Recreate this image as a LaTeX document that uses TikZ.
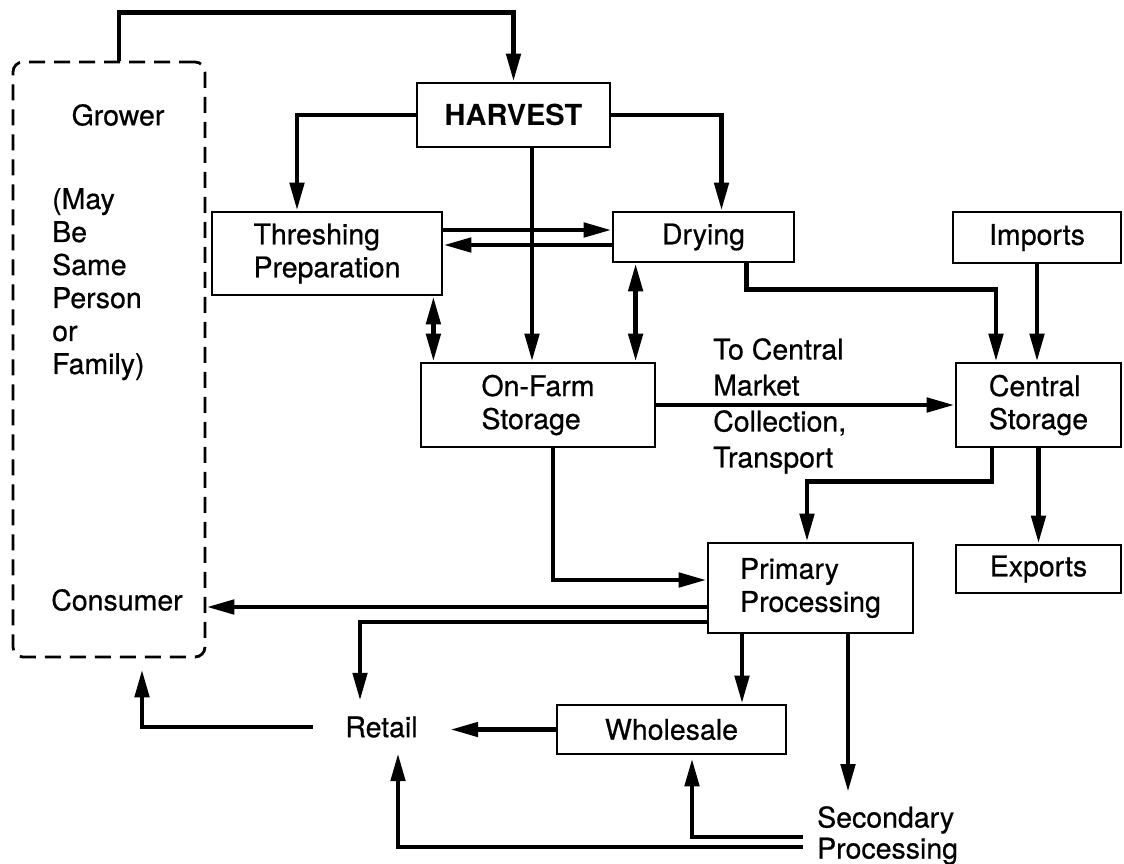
\documentclass[tikz,border=0pt]{standalone}
\usepackage{fontspec}
\setmainfont{TeX Gyre Heros}
\newfontfamily\medfont{TeX Gyre Heros}[FakeBold=0.6]
\usetikzlibrary{arrows.meta,calc}
\newcommand{\dgfont}{\medfont\fontsize{28.5}{33}\selectfont}
\begin{document}
\begin{tikzpicture}[x=1pt,y=-1pt,
  box/.style={draw,line width=2.8pt,inner sep=0pt,font=\dgfont,align=left},
  txt/.style={inner sep=0pt,font=\dgfont,align=left},
  gbox/.style={draw,line width=2.8pt,dash pattern=on 16pt off 9pt,rounded corners=10pt,inner sep=0pt},
  conn/.style={line width=4.8pt,-{Triangle[length=28pt,width=14pt]}},
  conn2/.style={line width=4.8pt,{Triangle[length=28pt,width=14pt]}-{Triangle[length=28pt,width=14pt]}}
]
\useasboundingbox (0,0) rectangle (1124,863);
% grower/consumer dashed box
\node[gbox,minimum width=192,minimum height=595] (gc) at (109,359.5) {};
\node[txt] (grower) at (118,115) {Grower};
\node[txt,anchor=north west] (may) at (52,188) {(May\\Be\\Same\\Person\\or\\Family)};
\node[txt] (consumer) at (117,600) {Consumer};
% boxes
\node[box,minimum width=193,minimum height=64,font=\fontsize{29}{33}\selectfont\bfseries] (harvest) at (513.5,115) {HARVEST};
\node[box,minimum width=230,minimum height=83] (thresh) at (327,253.5) {Threshing\\Preparation};
\node[box,minimum width=181,minimum height=50] (drying) at (703.5,237) {Drying};
\node[box,minimum width=168,minimum height=51] (imports) at (1037,237.5) {Imports};
\node[box,minimum width=234,minimum height=84] (onfarm) at (538,405) {On-Farm\\Storage};
\node[box,minimum width=165,minimum height=84] (central) at (1038.5,405) {Central\\Storage};
\node[box,minimum width=205,minimum height=90] (primary) at (810.5,588) {Primary\\Processing};
\node[box,minimum width=165,minimum height=48] (exports) at (1038.5,569) {Exports};
\node[box,minimum width=229,minimum height=49] (wholesale) at (671.5,729.5) {Wholesale};
\node[txt,minimum width=137,minimum height=52] (retail) at (381.5,727) {Retail};
\node[txt,anchor=north west,font=\medfont\fontsize{28.5}{31}\selectfont] (secondary) at (817,806) {Secondary\\Processing};
\node[txt,anchor=north west,font=\medfont\fontsize{28.5}{36}\selectfont] (tocentral) at (713,338) {To Central\\Market\\Collection,\\Transport};
% connectors
\draw[conn] ([xshift=10pt]gc.north) -- ++(0,-48) -| (harvest.north);
\draw[conn] (harvest.west) -| ([xshift=-30pt]thresh.north);
\draw[conn] (harvest.east) -| ([xshift=18pt]drying.north);
\draw[conn] ([xshift=18.5pt]harvest.south) -- ([xshift=18.5pt]harvest.south |- onfarm.north);
\draw[conn] ([yshift=23.5pt]thresh.east) -- ([yshift=23.5pt]thresh.east -| drying.west);
\draw[conn] ([yshift=-8pt]drying.west) -- ([yshift=-8pt]drying.west -| thresh.east);
\draw[conn2] ([xshift=-10pt]thresh.south east) -- ([xshift=-10pt]thresh.south east |- onfarm.north);
\draw[conn2] ([xshift=24pt]drying.south west) -- ([xshift=24pt]drying.south west |- onfarm.north);
\draw[conn] ([xshift=-49pt]drying.south east) -- ++(0,26) -| ([xshift=-42.5pt]central.north);
\draw[conn] (imports.south) -- (imports.south |- central.north);
\draw[conn] (onfarm.east) -- (central.west);
\draw[conn] (central.south) -- (exports.north);
\draw[conn] ([xshift=-46.5pt]central.south) -- ++(0,33) -| ([xshift=-3.5pt]primary.north);
\draw[conn] ([xshift=15pt]onfarm.south) |- ([yshift=8pt]primary.west);
\draw[conn] ([yshift=-19pt]primary.west) -- ([yshift=-19pt]primary.west -| gc.east);
\draw[conn] ([yshift=-34pt]primary.west) -| ([xshift=-21.5pt]retail.north);
\draw[conn,shorten >=11pt] (retail.west) -| ([xshift=33pt]gc.south);
\draw[conn] (wholesale.west) -- (wholesale.west -| retail.east);
\draw[conn] ([xshift=-68.5pt]primary.south) -- ([xshift=-68.5pt]primary.south |- wholesale.north);
\draw[conn,shorten >=14pt] ([xshift=37.5pt]primary.south) -- ([xshift=37.5pt]primary.south |- secondary.north);
\draw[conn,shorten <=14pt,shorten >=3pt] ([yshift=-31pt]secondary.north west) -| ([xshift=20.5pt]wholesale.south);
\draw[conn,shorten <=14pt] ([yshift=-41pt]secondary.north west) -| ([xshift=16.5pt]retail.south);
\end{tikzpicture}
\end{document}
